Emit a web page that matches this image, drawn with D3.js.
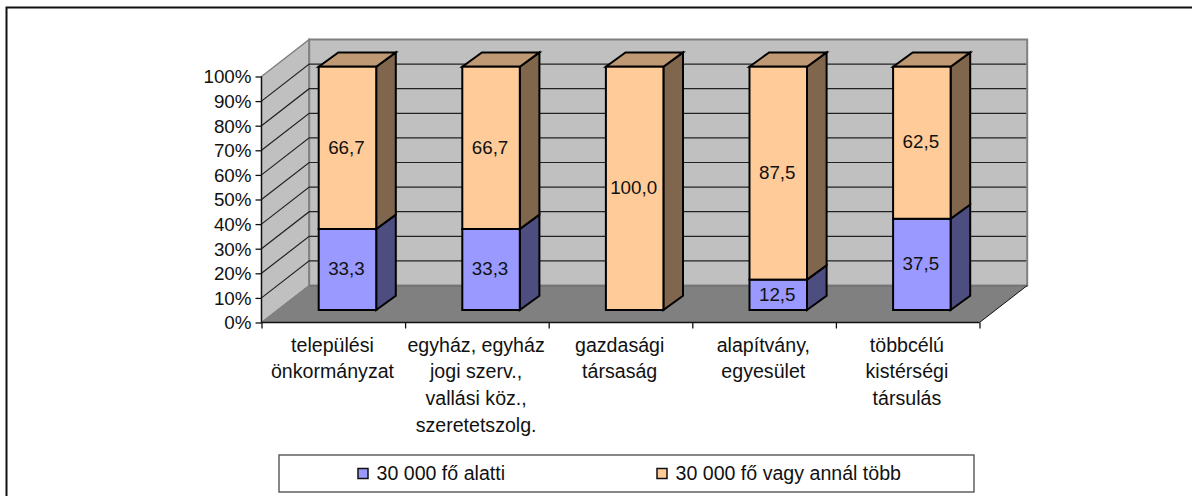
<!DOCTYPE html>
<html><head><meta charset="utf-8">
<style>html,body{margin:0;padding:0;background:#fff}svg{display:block}text{font-family:"Liberation Sans",Arial,sans-serif;fill:#111}</style>
<script src="https://cdnjs.cloudflare.com/ajax/libs/d3/7.8.5/d3.min.js"></script>
</head><body><div id="c"></div>
<script>
const categories = [
  ["települési","önkormányzat"],
  ["egyház, egyház","jogi szerv.,","vallási köz.,","szeretetszolg."],
  ["gazdasági","társaság"],
  ["alapítvány,","egyesület"],
  ["többcélú","kistérségi","társulás"]
];
const seriesNames = ["30 000 fő alatti","30 000 fő vagy annál több"];
const under30k = [33.3,33.3,0,12.5,37.5];
const over30k = [66.7,66.7,100,87.5,62.5];
const valueLabels = [["33,3","33,3","","12,5","37,5"],["66,7","66,7","100,0","87,5","62,5"]];
const ticks = [0,10,20,30,40,50,60,70,80,90,100];
const colors = [{f:"#9999ff",s:"#4d4d80",t:"#7373bf"},{f:"#ffcc99",s:"#80664d",t:"#bf9973"}];

const W=1192,H=496,FS="18.8px",FS2="19.6px";
const svg=d3.select("#c").append("svg").attr("width",W).attr("height",H);
const x=d3.scaleLinear().domain([0,5]).range([261.5,979.5]);
const yAxis=d3.scaleLinear().domain([0,100]).range([322.5,76.5]);
const yBar=d3.scaleLinear().domain([0,100]).range([310,66.7]);
const wall={dx:47.7,dy:-37};
const barDepth={dx:19.6,dy:-14.3};
const barW=57.5, barOff=57.2;
const pts=a=>a.map(p=>p.join(",")).join(" ");

// frame
svg.append("path").attr("d",`M6.5,496V7.5H1192`).attr("fill","none").attr("stroke","#111").attr("stroke-width",2);

// side wall, back wall, floor
const x0=x(0),x5=x(5),y0=yAxis(0),y1=yAxis(100);
svg.append("polygon").attr("points",pts([[x0,y0],[x0+wall.dx,y0+wall.dy],[x0+wall.dx,y1+wall.dy],[x0,y1]])).attr("fill","#c0c0c0").attr("stroke","#808080").attr("stroke-width",1.5);
svg.append("polygon").attr("points",pts([[x0+wall.dx,y0+wall.dy],[x5+wall.dx,y0+wall.dy],[x5+wall.dx,y1+wall.dy],[x0+wall.dx,y1+wall.dy]])).attr("fill","#c0c0c0").attr("stroke","#808080").attr("stroke-width",2);
svg.append("polygon").attr("points",pts([[x0,y0],[x5,y0],[x5+wall.dx,y0+wall.dy],[x0+wall.dx,y0+wall.dy]])).attr("fill","#808080");
svg.append("line").attr("x1",x0+wall.dx).attr("x2",x5+wall.dx).attr("y1",y0+wall.dy+.5).attr("y2",y0+wall.dy+.5).attr("stroke","#757575").attr("stroke-width",2);

// gridlines
ticks.filter(t=>t>0&&t<100).forEach(t=>{
  const y=yAxis(t);
  svg.append("path").attr("d",`M${x0},${y}L${x0+wall.dx},${y+wall.dy}L${x5+wall.dx-1},${y+wall.dy}`).attr("fill","none").attr("stroke","#222").attr("stroke-width",1.2);
});
// floor edges
svg.append("line").attr("x1",x5).attr("y1",y0).attr("x2",x5+wall.dx).attr("y2",y0+wall.dy).attr("stroke","#111").attr("stroke-width",1);
svg.append("line").attr("x1",x0).attr("y1",y0).attr("x2",x0+wall.dx).attr("y2",y0+wall.dy).attr("stroke","#808080").attr("stroke-width",1);

// axes
svg.append("g").attr("transform",`translate(${x0},0)`).call(d3.axisLeft(yAxis).tickValues(ticks).tickFormat(d=>d+"%").tickSize(6).tickPadding(4))
  .call(g=>{g.selectAll("text").style("font-size",FS).style("font-family",'"Liberation Sans"').attr("dy","0.34em");g.selectAll("line,path").attr("stroke","#111").attr("stroke-width",1.3);g.select(".domain").attr("d",`M0,${y1}V${y0}`);});
svg.append("g").attr("transform",`translate(0,${y0})`).call(d3.axisBottom(x).tickValues(d3.range(0,6)).tickFormat("").tickSize(6))
  .call(g=>{g.selectAll("line,path").attr("stroke","#111").attr("stroke-width",1.3);g.select(".domain").attr("d",`M${x0},0H${x5}`);});

// bars
const series=[under30k,over30k];
categories.forEach((c,i)=>{
  const bx=x(i)+barOff;
  let base=0;
  series.forEach((vals,s)=>{
    const v=vals[i]; if(!v) return;
    const yb=yBar(base), yt=yBar(base+v), col=colors[s], d=barDepth;
    const g=svg.append("g").attr("stroke","#000").attr("stroke-width",2).attr("stroke-linejoin","miter");
    g.append("polygon").attr("points",pts([[bx+barW,yb],[bx+barW+d.dx,yb+d.dy],[bx+barW+d.dx,yt+d.dy],[bx+barW,yt]])).attr("fill",col.s);
    if(base+v>=100) g.append("polygon").attr("points",pts([[bx,yt],[bx+barW,yt],[bx+barW+d.dx,yt+d.dy],[bx+d.dx,yt+d.dy]])).attr("fill",col.t);
    g.append("rect").attr("x",bx).attr("y",yt).attr("width",barW).attr("height",yb-yt).attr("fill",col.f);
    svg.append("text").attr("x",bx+barW/2-1).attr("y",(yb+yt)/2-1).attr("dy","0.36em").attr("text-anchor","middle").style("font-size",FS).text(valueLabels[s][i]);
    base+=v;
  });
  // category labels
  const t=svg.append("text").attr("text-anchor","middle").style("font-size",FS2);
  c.forEach((l,k)=>t.append("tspan").attr("x",x(i)+71).attr("y",351.7+k*26.6).text(l));
});

// legend
svg.append("rect").attr("x",279).attr("y",455).attr("width",695).attr("height",37).attr("fill","#fff").attr("stroke","#555").attr("stroke-width",1.4);
const lx=[358,657];
seriesNames.forEach((n,i)=>{
  svg.append("rect").attr("x",lx[i]).attr("y",468.5).attr("width",10).attr("height",10).attr("fill",colors[i].f).attr("stroke","#111").attr("stroke-width",1.5);
  svg.append("text").attr("x",lx[i]+18.5).attr("y",479.5).style("font-size",FS2).text(n);
});
</script></body></html>
